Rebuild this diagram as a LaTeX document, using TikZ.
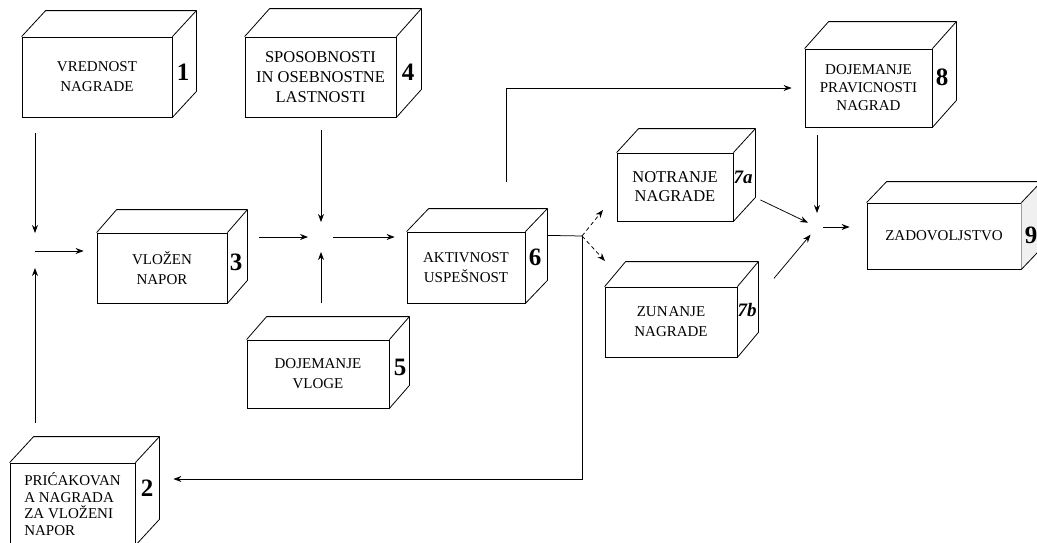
\documentclass[tikz,border=0pt]{standalone}
\usepackage{fontspec}
\setmainfont{Liberation Serif}
\usetikzlibrary{arrows.meta}
\newcommand\cubeback[3]{%
  \draw[edge] (#1.north west) -- ++(#2,#3) -- ([shift={(#2,#3)}]#1.north east) -- ([shift={(#2,#3)}]#1.south east) -- (#1.south east);
  \draw[edge] (#1.north east) -- ++(#2,#3);
}
\tikzset{
  edge/.style={line width=0.8pt, line join=round},
  face/.style={draw, line width=0.8pt, inner sep=2pt, align=center, font=\fontsize{15}{20}\selectfont},
  num/.style={font=\fontsize{25}{25}\selectfont\bfseries, inner sep=0pt},
  numit/.style={font=\fontsize{19}{19}\selectfont\bfseries\itshape, inner sep=0pt},
  arr/.style={line width=0.75pt, -{Stealth[length=8pt,width=6pt]}},
  darr/.style={arr, dash pattern=on 4pt off 3pt},
}
\begin{document}
\begin{tikzpicture}[x=1pt,y=-1pt]
\useasboundingbox (0,0) rectangle (1037,542);
\clip (0,0) rectangle (1037,542);
% boxes (front faces)
\node[face, minimum width=150pt, minimum height=80pt] (b1) at (97,77) {VREDNOST\\NAGRADE};
\node[face, minimum width=151pt, minimum height=80pt, font=\fontsize{16.5}{20}\selectfont] (b4) at (320.5,77) {SPOSOBNOSTI\\IN OSEBNOSTNE\\LASTNOSTI};
\node[face, minimum width=130pt, minimum height=70pt] (b3) at (162,268) {VLOŽEN\\NAPOR};
\node[face, minimum width=142pt, minimum height=68pt] (b5) at (318,374) {DOJEMANJE\\VLOGE};
\node[face, minimum width=125pt, minimum height=82pt, align=left, font=\fontsize{15}{16.7}\selectfont] (b2) at (72.5,504) {PRIĆAKOVAN\\A NAGRADA\\ZA VLOŽENI\\NAPOR};
\node[face, minimum width=118pt, minimum height=71pt] (b6) at (466,267.5) {AKTIVNOST\\USPEŠNOST};
\node[face, minimum width=116pt, minimum height=68pt, font=\fontsize{16.5}{19}\selectfont] (b7a) at (675,187) {NOTRANJE\\NAGRADE};
\node[face, minimum width=132pt, minimum height=70pt] (b7b) at (671,322) {ZUN\kern1pt ANJE\\NAGRADE};
\node[face, minimum width=127pt, minimum height=78pt, font=\fontsize{15}{18}\selectfont] (b8) at (868.5,88) {DOJEMANJE\\PRAVICNOSTI\\NAGRAD};
\node[face, minimum width=154pt, minimum height=66pt] (b9) at (944,236) {ZADOVOLJSTVO};
\fill[black!6] (b9.north east) -- ++(20,-21) -- ([shift={(20,-21)}]b9.south east) -- (b9.south east) -- cycle;
% 3D backs
\cubeback{b1}{24}{-26}
\cubeback{b4}{25}{-28}
\cubeback{b3}{20}{-23}
\cubeback{b5}{20}{-23}
\cubeback{b2}{24}{-26}
\cubeback{b6}{22}{-23}
\cubeback{b7a}{22}{-24}
\cubeback{b7b}{21}{-25}
\cubeback{b8}{24}{-27}
\cubeback{b9}{20}{-21}
% numbers
\node[num] (n1) at (183,72) {1};
\node[num] (n4) at (408,72) {4};
\node[num] (n3) at (236,262) {3};
\node[num] (n5) at (400,367) {5};
\node[num] (n2) at (147,488) {2};
\node[num] (n6) at (535,257) {6};
\node[numit] (n7a) at (743,177) {7a};
\node[numit] (n7b) at (747,310) {7b};
\node[num] (n8) at (942,77) {8};
\node[num] (n9) at (1031,235) {9};
% junctions
\coordinate (J1) at (35,251);
\coordinate (J2) at (321,237);
\coordinate (J3) at (582,236);
\coordinate (J4) at (817,227);
\coordinate (t7a) at (603,210);
\coordinate (t7b) at (605,261);
% connectors
\draw[arr, shorten <=16pt, shorten >=18pt] (J1 |- b1.south) -- (J1);
\draw[arr, shorten <=40pt, shorten >=17pt] (J1 |- b2.north) -- (J1);
\draw[arr, shorten >=13pt] (J1) -- (J1 -| b3.west);
\draw[arr, shorten <=32pt, shorten >=13pt] (J2 -| b3.east) -- (J2);
\draw[arr, shorten <=13pt, shorten >=15pt] (J2 |- b4.south) -- (J2);
\draw[arr, shorten <=37pt, shorten >=15pt] (J2 |- b5.north) -- (J2);
\draw[arr, shorten <=12pt, shorten >=12pt] (J2) -- (J2 -| b6.west);
\draw[arr, shorten <=50pt, shorten >=13pt] ([xshift=40pt]b6.north) |- (b8.west);
\draw[line width=0.75pt, shorten <=22pt] ([yshift=32.5pt]b6.east) -- (J3);
\draw[arr, shorten >=38pt] (J3) |- ([yshift=25pt]b2.east);
\draw[darr] (J3) -- (t7a);
\draw[darr] (J3) -- (t7b);
\draw[arr, shorten <=8pt, shorten >=14pt] (J4 |- b8.south) -- (J4);
\draw[arr, shorten <=30pt, shorten >=10pt] (b7a.east) -- (J4);
\draw[arr, shorten <=57pt, shorten >=10pt] (b7b.east) -- (J4);
\draw[arr, shorten <=6pt, shorten >=17pt] (J4) -- (J4 -| b9.west);
\end{tikzpicture}
\end{document}
